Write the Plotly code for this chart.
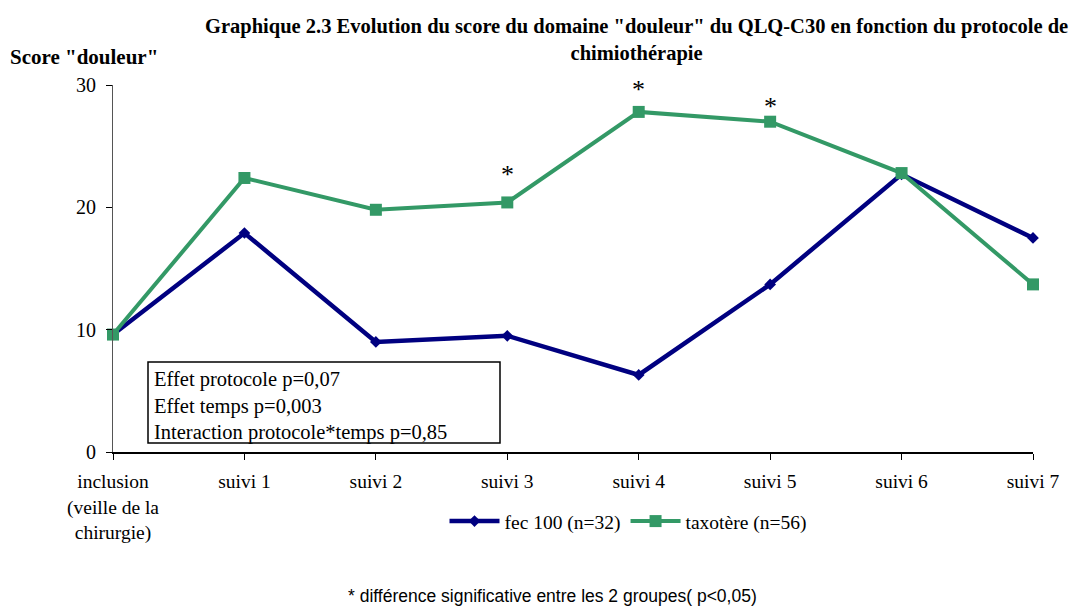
import plotly.graph_objects as go

categories = ["inclusion<br>(veille de la<br>chirurgie)", "suivi 1", "suivi 2", "suivi 3",
              "suivi 4", "suivi 5", "suivi 6", "suivi 7"]
fec_values = [9.6, 17.9, 9.0, 9.5, 6.3, 13.7, 22.7, 17.5]
taxo_values = [9.6, 22.4, 19.8, 20.4, 27.8, 27.0, 22.8, 13.7]
y_ticks = [0, 10, 20, 30]
star_idx = [3, 4, 5]
star_shift = [28, 22, 15]

serif = "Liberation Serif"
xs = list(range(len(categories)))

fig = go.Figure()
fig.add_trace(go.Scatter(x=xs, y=fec_values, mode="lines+markers", name="fec 100 (n=32)",
                         line=dict(color="#000080", width=4.5), cliponaxis=False,
                         marker=dict(symbol="diamond", size=9, color="#000080")))
fig.add_trace(go.Scatter(x=xs, y=taxo_values, mode="lines+markers", name="taxotère (n=56)",
                         line=dict(color="#339966", width=4), cliponaxis=False,
                         marker=dict(symbol="square", size=12, color="#339966")))

for i, s in zip(star_idx, star_shift):
    fig.add_annotation(x=xs[i], y=taxo_values[i], text="*", showarrow=False, yshift=s,
                       font=dict(family=serif, size=26, color="black"))

# stats box
fig.add_shape(type="rect", xref="paper", yref="paper",
              x0=(148 - 113) / 920, x1=(500 - 113) / 920,
              y0=(452 - 443) / 367, y1=(452 - 362) / 367,
              line=dict(color="black", width=1.5), fillcolor="white", layer="above")
fig.add_annotation(xref="paper", yref="paper", x=(152 - 113) / 920, y=(452 - 406) / 367,
                   xanchor="left", yanchor="middle", align="left", showarrow=False,
                   text="Effet protocole p=0,07<br>Effet temps p=0,003<br>Interaction protocole*temps p=0,85",
                   font=dict(family=serif, size=20.5, color="black"))

fig.add_annotation(xref="paper", yref="paper", x=(8 - 113) / 920, y=(452 - 57) / 367,
                   xanchor="left", yanchor="middle",
                   text="<b>Score \"douleur\"</b>", showarrow=False,
                   font=dict(family=serif, size=21, color="black"))

fig.add_annotation(xref="paper", yref="paper", x=(636 - 113) / 920, y=(452 - 13) / 367,
                   xanchor="center", yanchor="top", align="center",
                   text="<b>Graphique 2.3 Evolution du score du domaine \"douleur\" du QLQ-C30 en fonction du protocole de<br>chimiothérapie</b>",
                   showarrow=False, font=dict(family=serif, size=20.5, color="black"))

fig.add_annotation(xref="paper", yref="paper", x=(552 - 113) / 920, y=(452 - 596) / 367,
                   xanchor="center", yanchor="middle",
                   text="* différence significative entre les 2 groupes( p<0,05)", showarrow=False,
                   font=dict(family="Liberation Sans", size=17.5, color="black"))

fig.update_layout(
    width=1079, height=606,
    margin=dict(l=113, r=46, t=85, b=154),
    paper_bgcolor="white", plot_bgcolor="white",
    showlegend=True,
    legend=dict(orientation="h", x=(628 - 113) / 920, xanchor="center", y=-0.136, yanchor="top",
                itemwidth=50, font=dict(family=serif, size=19.5, color="black")),
    xaxis=dict(tickmode="array", tickvals=xs, ticktext=categories, range=[0, 7],
               showline=True, linecolor="black", linewidth=1.5, ticks="outside", ticklen=6,
               tickcolor="black", showgrid=False, zeroline=False, ticklabelstandoff=5,
               tickfont=dict(family=serif, size=19.5, color="black")),
    yaxis=dict(tickmode="array", tickvals=y_ticks, range=[0, 30],
               showline=True, linecolor="#555555", linewidth=1, ticks="outside", ticklen=6,
               tickcolor="black", showgrid=False, zeroline=False, ticklabelstandoff=6,
               tickfont=dict(family=serif, size=20, color="black")),
)

fig.write_html("out.html", config={"displayModeBar": False},
               post_script="document.body.style.margin='0';")
